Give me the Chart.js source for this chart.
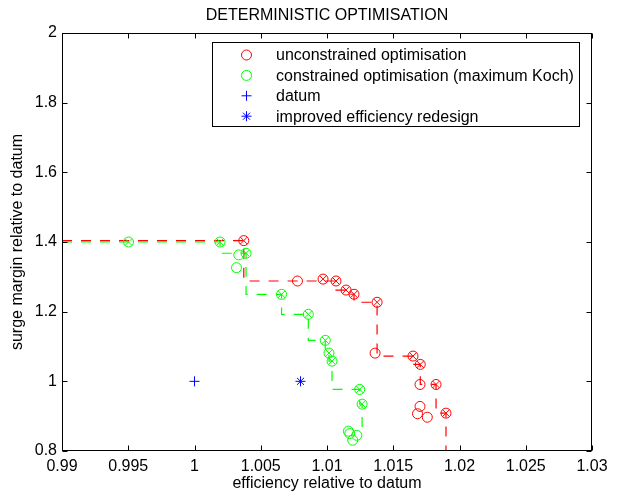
<!DOCTYPE html>
<html>
<head>
<meta charset="utf-8">
<script src="https://cdn.jsdelivr.net/npm/chart.js@4/dist/chart.umd.min.js"></script>
<style>
  body { margin: 0; background: #fff; }
  #wrap { width: 626px; height: 492px; }
</style>
</head>
<body>
<div id="wrap"><canvas id="myChart"></canvas></div>
<script>
// Deterministic optimisation - surge margin vs efficiency
const titleText = 'DETERMINISTIC OPTIMISATION';
const xTitle = 'efficiency relative to datum';
const yTitle = 'surge margin relative to datum';

const xTicks = [0.99, 0.995, 1, 1.005, 1.01, 1.015, 1.02, 1.025, 1.03];
const xTickLabels = ['0.99', '0.995', '1', '1.005', '1.01', '1.015', '1.02', '1.025', '1.03'];
const yTicks = [0.8, 1, 1.2, 1.4, 1.6, 1.8, 2];
const yTickLabels = ['0.8', '1', '1.2', '1.4', '1.6', '1.8', '2'];

// unconstrained optimisation (red)
const redOpen = [[1.00777, 1.288], [1.01363, 1.081], [1.01702, 0.928], [1.01683, 0.907], [1.01757, 0.897], [1.01702, 0.991]];
const redCrossed = [[1.00372, 1.404], [1.0097, 1.2935], [1.01068, 1.288], [1.01144, 1.262], [1.01204, 1.25],
  [1.01378, 1.227], [1.01649, 1.0725], [1.01704, 1.0486], [1.01823, 0.991], [1.01898, 0.9087]];
const redFront = [[0.99, 1.404], [1.00372, 1.404], [1.01068, 1.288], [1.01144, 1.262], [1.01204, 1.25],
  [1.01378, 1.227], [1.01649, 1.0725], [1.01704, 1.0486], [1.01823, 0.991], [1.01898, 0.9087], [1.01898, 0.8]];

// constrained optimisation (green)
const greenOpen = [[1.00334, 1.363], [1.00317, 1.3263], [1.01161, 0.857], [1.01172, 0.85], [1.01194, 0.831], [1.01225, 0.845]];
const greenCrossed = [[0.99502, 1.4], [1.00193, 1.4], [1.00389, 1.3677], [1.00657, 1.2498], [1.00859, 1.1924],
  [1.00987, 1.1176], [1.01015, 1.0811], [1.01038, 1.0581], [1.01247, 0.9768], [1.01265, 0.9345]];
const greenFront = [[0.99, 1.4], [1.00193, 1.4], [1.00389, 1.3677], [1.00657, 1.2498], [1.00859, 1.1924],
  [1.00987, 1.1176], [1.01015, 1.0811], [1.01038, 1.0581], [1.01247, 0.9768], [1.01265, 0.9345], [1.01265, 0.845]];

const datum = [[1, 1]];
const improved = [[1.008, 1]];

const legendItems = [
  { text: 'unconstrained optimisation', style: 'circle', color: '#ff0000' },
  { text: 'constrained optimisation (maximum Koch)', style: 'circle', color: '#00ff00' },
  { text: 'datum', style: 'cross', color: '#0000ff' },
  { text: 'improved efficiency redesign', style: 'star', color: '#0000ff' }
];

const RED = '#ff0000', GREEN = '#00ff00', BLUE = '#0000ff';
const FONT = "'Liberation Sans', Arial, sans-serif";
const pts = arr => arr.map(p => ({ x: p[0], y: p[1] }));

function markers(arr, style, color, order) {
  return {
    data: pts(arr), pointStyle: style, pointRadius: 5, pointHoverRadius: 5,
    borderColor: color, backgroundColor: 'rgba(0,0,0,0)', pointBorderWidth: 1, showLine: false, order: order
  };
}
function front(arr, color, order) {
  // vertical drop first, then across to the next point
  return {
    data: pts(arr), showLine: true, stepped: 'after', borderColor: color, borderWidth: 1.2,
    borderDash: [10, 9], pointRadius: 0, fill: false, order: order
  };
}

// box, inward ticks, title and legend drawn MATLAB style
const matlabFrame = {
  id: 'matlabFrame',
  afterDraw(chart) {
    const { ctx, chartArea: a, scales: { x, y } } = chart;
    const L = a.left + 0.5, R = a.right - 0.5, T = a.top + 0.5, B = a.bottom - 0.5;
    ctx.save();
    ctx.strokeStyle = '#000';
    ctx.lineWidth = 1;
    ctx.strokeRect(L, T, R - L, B - T);
    ctx.beginPath();
    xTicks.forEach(v => {
      const px = Math.round(x.getPixelForValue(v)) + 0.5;
      ctx.moveTo(px, B); ctx.lineTo(px, B - 5);
      ctx.moveTo(px, T); ctx.lineTo(px, T + 5);
    });
    yTicks.forEach(v => {
      const py = Math.round(y.getPixelForValue(v)) + 0.5;
      ctx.moveTo(L, py); ctx.lineTo(L + 5, py);
      ctx.moveTo(R, py); ctx.lineTo(R - 5, py);
    });
    ctx.stroke();

    ctx.fillStyle = '#000';
    ctx.font = '16px ' + FONT;
    ctx.textAlign = 'center';
    ctx.textBaseline = 'middle';
    ctx.fillText(titleText, (a.left + a.right) / 2, 16);

    // legend
    const bx = 212.5, by = 42.5, bw = 367, bh = 84;
    ctx.fillStyle = '#fff';
    ctx.fillRect(bx, by, bw, bh);
    ctx.strokeRect(bx, by, bw, bh);
    ctx.textAlign = 'left';
    legendItems.forEach((it, i) => {
      const cy = 55 + i * 20.4;
      ctx.strokeStyle = it.color;
      ctx.fillStyle = 'rgba(0,0,0,0)';
      ctx.lineWidth = 1;
      Chart.helpers.drawPoint(ctx, { pointStyle: it.style, radius: 5, rotation: 0, borderWidth: 1 }, 246.5, cy);
      ctx.fillStyle = '#000';
      ctx.fillText(it.text, 276, cy + 1);
    });
    ctx.restore();
  }
};

const ctx = document.getElementById('myChart').getContext('2d');

new Chart(ctx, {
  type: 'scatter',
  data: {
    datasets: [
      markers(redCrossed, 'crossRot', RED, 1),
      markers(redCrossed, 'circle', RED, 2),
      markers(redOpen, 'circle', RED, 3),
      markers(greenCrossed, 'crossRot', GREEN, 4),
      markers(greenCrossed, 'circle', GREEN, 5),
      markers(greenOpen, 'circle', GREEN, 6),
      markers(datum, 'cross', BLUE, 7),
      markers(improved, 'star', BLUE, 8),
      front(redFront, RED, 9),
      front(greenFront, GREEN, 10)
    ]
  },
  options: {
    responsive: true,
    maintainAspectRatio: false,
    animation: false,
    layout: { padding: { top: 33, right: 34, left: 0, bottom: 0 } },
    plugins: {
      legend: { display: false },
      tooltip: { enabled: false },
      title: { display: false }
    },
    scales: {
      x: {
        type: 'linear', min: 0.99, max: 1.03,
        afterFit: s => { s.height = 41; },
        afterBuildTicks: s => { s.ticks = xTicks.map(v => ({ value: v })); },
        grid: { display: false, drawTicks: false },
        border: { display: false },
        ticks: {
          color: '#000', padding: 6, maxRotation: 0, autoSkip: false,
          font: { family: FONT, size: 16 },
          callback: v => xTickLabels[xTicks.findIndex(t => Math.abs(t - v) < 1e-9)]
        },
        title: { display: true, text: xTitle, color: '#000', padding: 0, font: { family: FONT, size: 16, lineHeight: 1 } }
      },
      y: {
        type: 'linear', min: 0.8, max: 2,
        afterFit: s => { s.width = 62; },
        afterBuildTicks: s => { s.ticks = yTicks.map(v => ({ value: v })); },
        grid: { display: false, drawTicks: false },
        border: { display: false },
        ticks: {
          color: '#000', padding: 5, autoSkip: false,
          font: { family: FONT, size: 16 },
          callback: v => yTickLabels[yTicks.findIndex(t => Math.abs(t - v) < 1e-9)]
        },
        title: { display: true, text: yTitle, color: '#000', padding: { top: 10, bottom: 0 }, font: { family: FONT, size: 16, lineHeight: 1 } }
      }
    }
  },
  plugins: [matlabFrame]
});
</script>
</body>
</html>
